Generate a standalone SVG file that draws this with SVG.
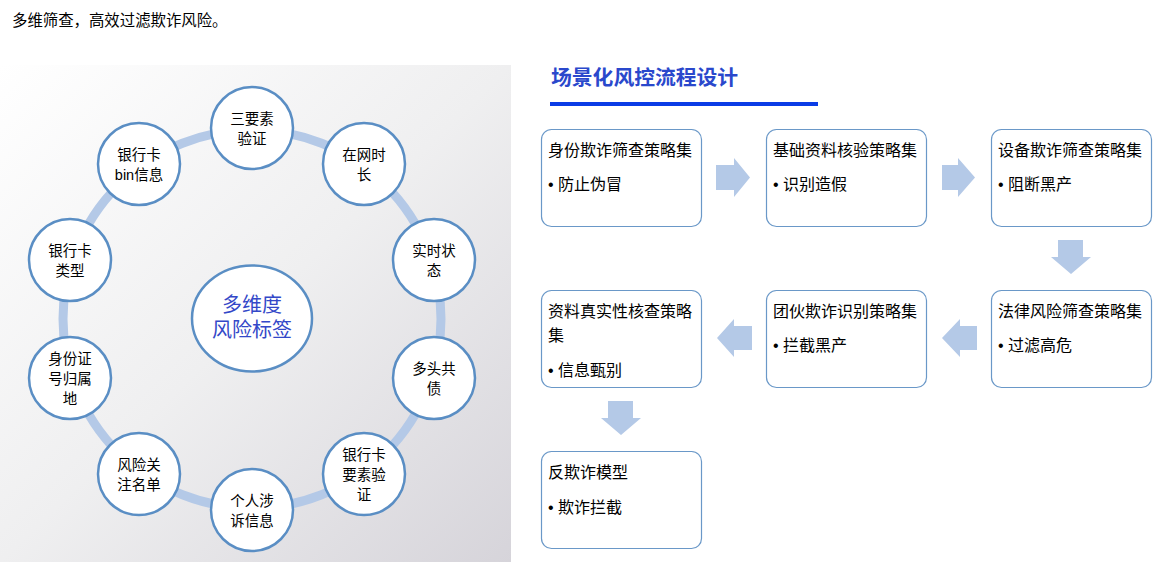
<svg xmlns="http://www.w3.org/2000/svg" width="1156" height="562" viewBox="0 0 1156 562">
<defs>
<linearGradient id="bg" x1="0" y1="0" x2="1" y2="1">
<stop offset="0" stop-color="#ffffff"/>
<stop offset="0.5" stop-color="#efeff0"/>
<stop offset="1" stop-color="#d6d4da"/>
</linearGradient>
<style>
.t{font-family:"Liberation Sans","Noto Sans CJK SC",sans-serif;fill:#000}
.n circle{fill:#fff;stroke:#5a8ec4;stroke-width:2.5}
.n text{font-family:"Liberation Sans","Noto Sans CJK SC",sans-serif;font-size:14.5px;fill:#000;text-anchor:middle}
.b rect{fill:#fff;stroke:#6a98c8;stroke-width:1.2}
.b text{font-family:"Liberation Sans","Noto Sans CJK SC",sans-serif;font-size:16px;fill:#000}
.ar{fill:#b4c9e7}
</style>
</defs>
<rect width="1156" height="562" fill="#fff"/>
<text class="t" x="12" y="26" font-size="15.4">多维筛查，高效过滤欺诈风险。</text>
<rect x="0" y="65" width="511" height="497" fill="url(#bg)"/>
<g id="ring">
<circle cx="252" cy="319" r="189" fill="none" stroke="#b4c9e7" stroke-width="9"/>
</g>
<g id="center">
<ellipse cx="252" cy="318.5" rx="60" ry="53" fill="#fff" stroke="#5a8ec4" stroke-width="2.5"/>
<text x="252" y="312" font-family="Liberation Sans,Noto Sans CJK SC,sans-serif" font-size="20" fill="#3348c8" text-anchor="middle">多维度</text>
<text x="252" y="337" font-family="Liberation Sans,Noto Sans CJK SC,sans-serif" font-size="20" fill="#3348c8" text-anchor="middle">风险标签</text>
</g>
<g id="n1" class="n"><circle cx="252" cy="128" r="41"/><text x="252" y="124">三要素</text><text x="252" y="144">验证</text></g>
<g id="n2" class="n"><circle cx="364" cy="164" r="41"/><text x="364" y="160">在网时</text><text x="364" y="180">长</text></g>
<g id="n3" class="n"><circle cx="434" cy="260" r="41"/><text x="434" y="256">实时状</text><text x="434" y="276">态</text></g>
<g id="n4" class="n"><circle cx="434" cy="378" r="41"/><text x="434" y="374">多头共</text><text x="434" y="394">债</text></g>
<g id="n5" class="n"><circle cx="364" cy="474" r="41"/><text x="364" y="460">银行卡</text><text x="364" y="480">要素验</text><text x="364" y="500">证</text></g>
<g id="n6" class="n"><circle cx="252" cy="510" r="41"/><text x="252" y="506">个人涉</text><text x="252" y="526">诉信息</text></g>
<g id="n7" class="n"><circle cx="139" cy="474" r="41"/><text x="139" y="470">风险关</text><text x="139" y="490">注名单</text></g>
<g id="n8" class="n"><circle cx="70" cy="378" r="41"/><text x="70" y="364">身份证</text><text x="70" y="384">号归属</text><text x="70" y="404">地</text></g>
<g id="n9" class="n"><circle cx="70" cy="260" r="41"/><text x="70" y="256">银行卡</text><text x="70" y="276">类型</text></g>
<g id="n10" class="n"><circle cx="139" cy="164" r="41"/><text x="139" y="160">银行卡</text><text x="139" y="180">bin信息</text></g>
<text x="551" y="85" font-family="Liberation Sans,Noto Sans CJK SC,sans-serif" font-size="20.8" font-weight="bold" fill="#2a48cc">场景化风控流程设计</text>
<rect x="550" y="102" width="268" height="4" fill="#0a3ce6"/>
<g id="s1" class="b"><rect x="541.5" y="129.5" width="160" height="97" rx="10"/><text x="548" y="156">身份欺诈筛查策略集</text><text x="548" y="190">•  防止伪冒</text></g>
<g id="s2" class="b"><rect x="766.5" y="129.5" width="160" height="97" rx="10"/><text x="773" y="156">基础资料核验策略集</text><text x="773" y="190">•  识别造假</text></g>
<g id="s3" class="b"><rect x="991.5" y="129.5" width="160" height="97" rx="10"/><text x="998" y="156">设备欺诈筛查策略集</text><text x="998" y="190">•  阻断黑产</text></g>
<g id="s4" class="b"><rect x="991.5" y="290.5" width="160" height="97" rx="10"/><text x="998" y="317">法律风险筛查策略集</text><text x="998" y="351">•  过滤高危</text></g>
<g id="s5" class="b"><rect x="766.5" y="290.5" width="160" height="97" rx="10"/><text x="773" y="317">团伙欺诈识别策略集</text><text x="773" y="351">•  拦截黑产</text></g>
<g id="s6" class="b"><rect x="541.5" y="290.5" width="160" height="97" rx="10"/><text x="548" y="317">资料真实性核查策略</text><text x="548" y="341">集</text><text x="548" y="376">•  信息甄别</text></g>
<g id="s7" class="b"><rect x="541.5" y="451.5" width="160" height="97" rx="10"/><text x="548" y="478">反欺诈模型</text><text x="548" y="513">•  欺诈拦截</text></g>
<g id="connectors">
<polygon class="ar" points="716,165 734,165 734,158 750,177.5 734,197 734,190 716,190"/>
<polygon class="ar" points="942,165 958,165 958,158 975,177.5 958,197 958,190 942,190"/>
<polygon class="ar" points="1058,240 1083,240 1083,257 1091,257 1071,274 1051,257 1058,257"/>
<polygon class="ar" points="977,326 960,326 960,319 942,338 960,357 960,350 977,350"/>
<polygon class="ar" points="752,326 734,326 734,319 717,338 734,357 734,350 752,350"/>
<polygon class="ar" points="608,401 633,401 633,418 641,418 621,435 601,418 608,418"/>
</g>
</svg>
